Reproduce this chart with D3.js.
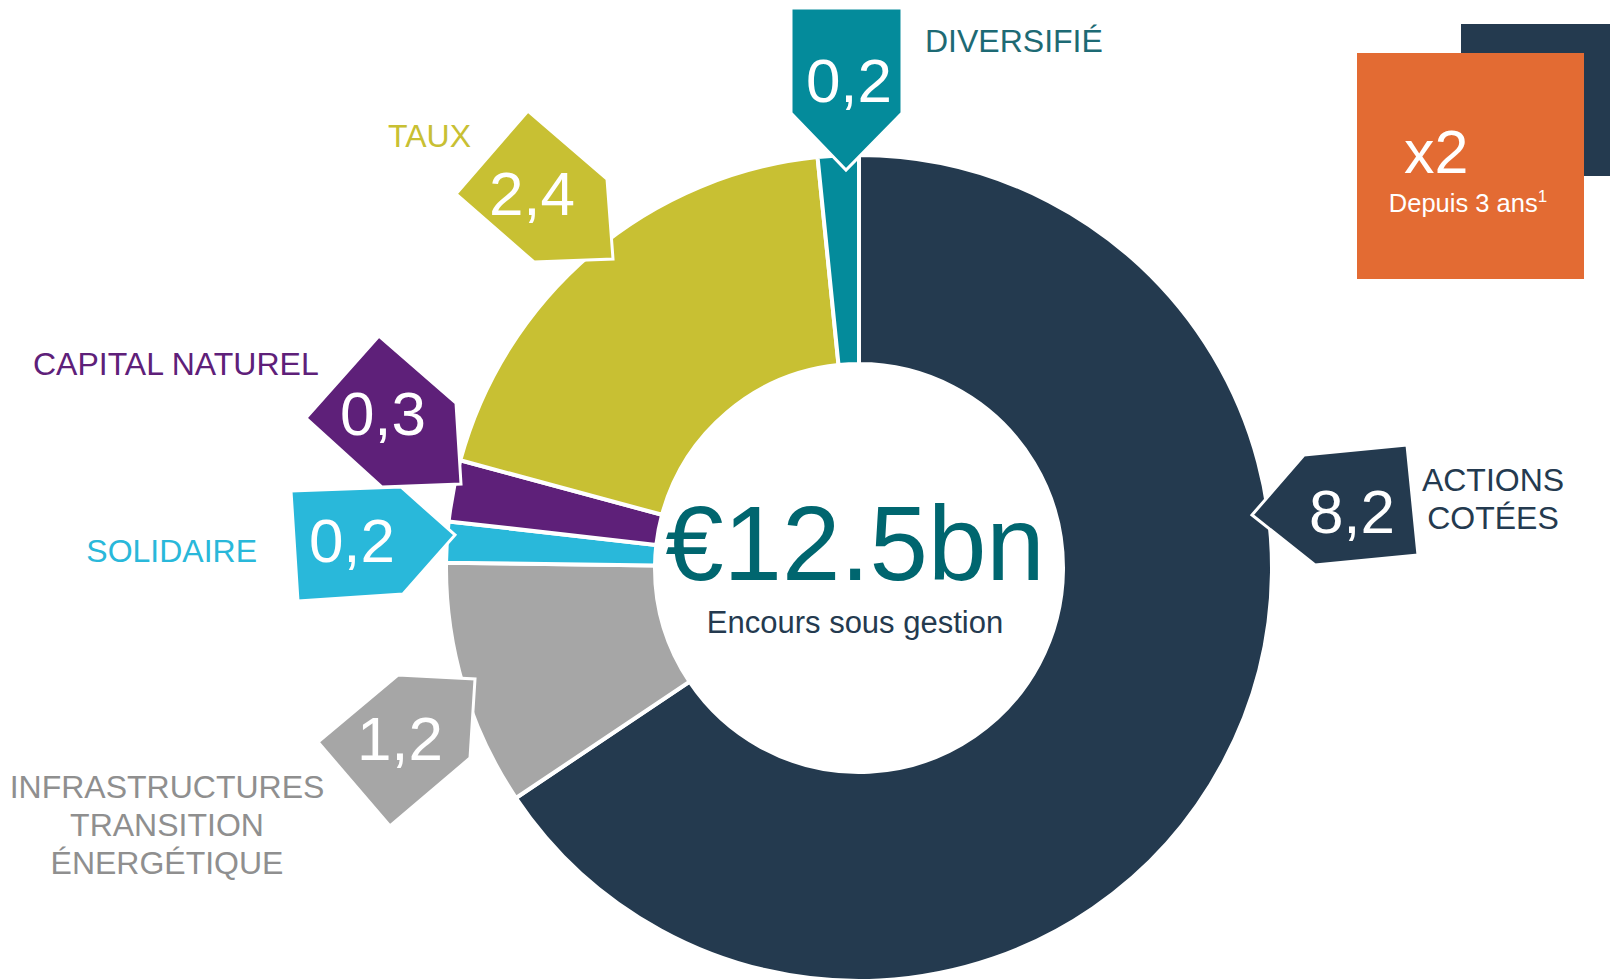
<!DOCTYPE html>
<html>
<head>
<meta charset="utf-8">
<script src="https://cdn.jsdelivr.net/npm/d3@7"></script>
<style>
  html, body { margin: 0; padding: 0; background: #fff; }
  svg { display: block; font-family: "Liberation Sans", Arial, sans-serif; }
</style>
</head>
<body>
<svg id="chart"></svg>
<script>
// data, clockwise from 12 o'clock
const categories = ['ACTIONS COTÉES', 'INFRASTRUCTURES TRANSITION ÉNERGÉTIQUE', 'SOLIDAIRE', 'CAPITAL NATUREL', 'TAUX', 'DIVERSIFIÉ'];
const labelLines = [['ACTIONS', 'COTÉES'], ['INFRASTRUCTURES', 'TRANSITION', 'ÉNERGÉTIQUE'], ['SOLIDAIRE'], ['CAPITAL NATUREL'], ['TAUX'], ['DIVERSIFIÉ']];
const values = [8.2, 1.2, 0.2, 0.3, 2.4, 0.2];
const totalLabel = '€12.5bn';
const totalSub = 'Encours sous gestion';
const growthLabel = 'x2';
const growthSub = 'Depuis 3 ans';

const colors = ['#243a4f', '#a6a6a6', '#29b8da', '#5e2079', '#c8c033', '#048b9b'];
const textColors = ['#243a4f', '#8f8f8f', '#29b8da', '#5e2079', '#c8c033', '#1d6a74'];

// callout tags, hand placed like in the slide
const tags = [
  { pts: [[1252, 515], [1304, 455], [1407, 445], [1418, 555], [1315, 565]], vx: 1352, vy: 533,
    lx: 1493, ly: 491, anchor: 'middle' },
  { pts: [[318, 742], [398, 675], [475, 679], [470, 758], [390, 826]], vx: 400, vy: 760,
    lx: 167, ly: 798, anchor: 'middle' },
  { pts: [[291, 491], [401, 487], [455, 535], [403, 594], [298, 601]], vx: 352, vy: 562,
    lx: 257, ly: 562, anchor: 'end' },
  { pts: [[306, 418], [379, 336], [456, 403], [461, 484], [382, 487]], vx: 383, vy: 435,
    lx: 33, ly: 375, anchor: 'start' },
  { pts: [[456, 194], [528, 111], [607, 179], [613, 259], [534, 262]], vx: 532, vy: 215,
    lx: 388, ly: 147, anchor: 'start' },
  { pts: [[791, 8], [902, 8], [902, 113], [846, 170], [791, 113]], vx: 849, vy: 102,
    lx: 925, ly: 52, anchor: 'start' }
];

const width = 1610, height = 980;
const cx = 859, cy = 568;
const outerR = 413, innerR = 204;

const fr = d3.formatLocale({ decimal: ',', thousands: ' ', grouping: [3], currency: ['', '€'] });
const fmt = fr.format('.1f');

const svg = d3.select('#chart').attr('width', width).attr('height', height);

const pie = d3.pie().sort(null).value(d => d);
const arc = d3.arc().innerRadius(innerR).outerRadius(outerR);

const g = svg.append('g').attr('transform', `translate(${cx},${cy})`);
g.selectAll('path.slice')
  .data(pie(values))
  .join('path')
  .attr('class', 'slice')
  .attr('d', arc)
  .attr('fill', (d, i) => colors[i])
  .attr('stroke', '#fff')
  .attr('stroke-width', 4)
  .attr('stroke-linejoin', 'miter');

// centre text
g.append('text')
  .attr('x', -4).attr('y', 12)
  .attr('text-anchor', 'middle')
  .attr('font-size', 105)
  .attr('fill', '#00666f')
  .text(totalLabel);
g.append('text')
  .attr('x', -4).attr('y', 65)
  .attr('text-anchor', 'middle')
  .attr('font-size', 31)
  .attr('fill', '#243a4f')
  .text(totalSub);

// tags
const line = d3.line();
const tagG = svg.append('g');
values.forEach((v, i) => {
  const t = tags[i];
  tagG.append('path')
    .attr('d', line(t.pts) + 'Z')
    .attr('fill', colors[i])
    .attr('stroke', '#fff')
    .attr('stroke-width', 3)
    .attr('stroke-linejoin', 'miter');
  tagG.append('text')
    .attr('x', t.vx).attr('y', t.vy)
    .attr('text-anchor', 'middle')
    .attr('font-size', 62)
    .attr('fill', '#fff')
    .text(fmt(v));
  const lab = tagG.append('text')
    .attr('text-anchor', t.anchor)
    .attr('font-size', 32)
    .attr('fill', textColors[i]);
  labelLines[i].forEach((s, k) => {
    lab.append('tspan')
      .attr('x', t.lx)
      .attr('y', t.ly + k * 37.8)
      .text(s);
  });
});

// growth box
svg.append('rect').attr('x', 1461).attr('y', 24).attr('width', 149).attr('height', 152).attr('fill', '#243a4f');
svg.append('rect').attr('x', 1357).attr('y', 53).attr('width', 227).attr('height', 226).attr('fill', '#e36b33');
svg.append('text')
  .attr('x', 1404).attr('y', 173)
  .attr('font-size', 61)
  .attr('fill', '#fff')
  .text(growthLabel);
const sub = svg.append('text')
  .attr('x', 1468).attr('y', 212)
  .attr('text-anchor', 'middle')
  .attr('font-size', 25.5)
  .attr('fill', '#fff');
sub.append('tspan').text(growthSub);
sub.append('tspan').attr('font-size', 17).attr('dy', -10).text('1');
</script>
</body>
</html>
